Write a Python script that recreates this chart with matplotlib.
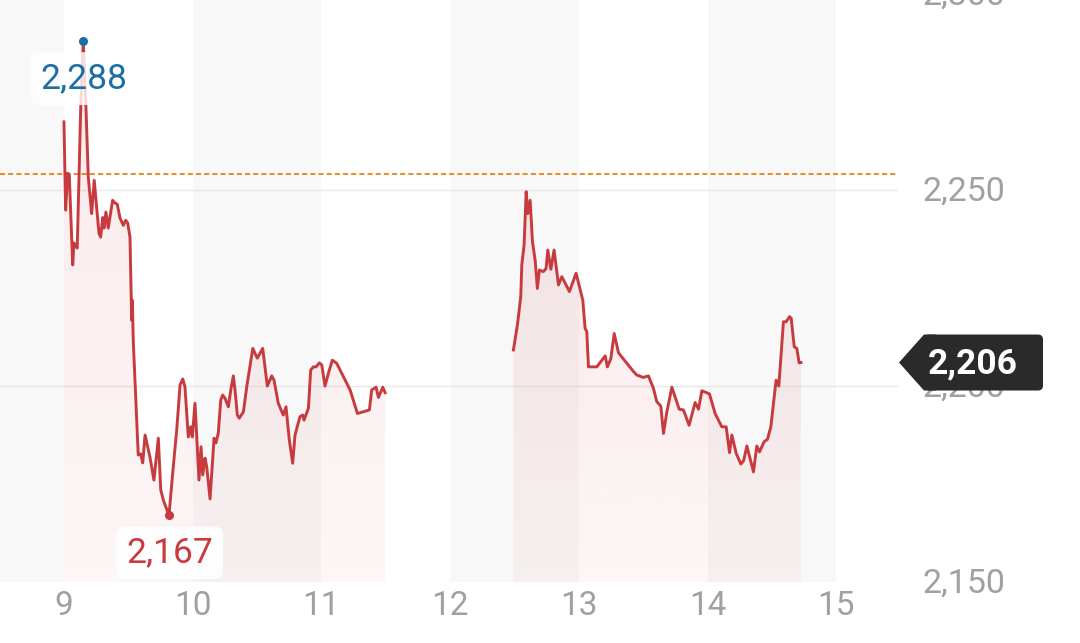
import numpy as np
import matplotlib
matplotlib.use("Agg")
import matplotlib.pyplot as plt
import matplotlib.transforms as mtransforms
from matplotlib.patches import Polygon, FancyBboxPatch

plt.rcParams['font.family'] = ['Roboto', 'DejaVu Sans']

# ---------------- data ----------------
am_time = [9.000, 9.013, 9.029, 9.041, 9.068, 9.078, 9.103, 9.130, 9.150, 9.171,
           9.189, 9.215, 9.235, 9.272, 9.285, 9.301, 9.311, 9.326, 9.344, 9.378,
           9.396, 9.414, 9.435, 9.461, 9.480, 9.495, 9.513, 9.526, 9.531, 9.539,
           9.577, 9.596, 9.612, 9.630, 9.668, 9.699, 9.733, 9.752, 9.772, 9.816,
           9.849, 9.876, 9.902, 9.923, 9.940, 9.966, 9.985, 9.997, 10.018, 10.049,
           10.065, 10.078, 10.096, 10.109, 10.135, 10.166, 10.181, 10.199, 10.218, 10.233,
           10.251, 10.277, 10.296, 10.316, 10.329, 10.347, 10.362, 10.394, 10.420, 10.467,
           10.502, 10.544, 10.580, 10.614, 10.632, 10.665, 10.704, 10.725, 10.751, 10.777,
           10.795, 10.834, 10.855, 10.865, 10.899, 10.917, 10.938, 10.959, 10.984, 11.003,
           11.028, 11.054, 11.085, 11.119, 11.223, 11.248, 11.280, 11.373, 11.391, 11.425,
           11.443, 11.477, 11.495]
am_price = [2267.4, 2244.9, 2254.3, 2254.0, 2230.9, 2236.5, 2235.2, 2270.9, 2288.0, 2270.9,
            2253.3, 2244.0, 2252.5, 2239.0, 2238.0, 2243.0, 2240.3, 2244.4, 2240.3, 2247.4,
            2246.7, 2246.4, 2242.9, 2241.0, 2242.3, 2241.6, 2238.0, 2216.8, 2221.9, 2211.0,
            2182.4, 2182.7, 2180.4, 2187.5, 2181.9, 2176.0, 2186.7, 2173.5, 2170.9, 2167.0,
            2179.4, 2188.8, 2200.3, 2201.8, 2199.8, 2187.0, 2189.6, 2187.0, 2195.6, 2176.0,
            2184.5, 2177.3, 2181.6, 2179.4, 2171.2, 2186.7, 2185.5, 2188.0, 2196.4, 2197.7,
            2196.9, 2194.7, 2199.0, 2202.6, 2199.0, 2192.6, 2191.8, 2193.4, 2199.8, 2209.6,
            2207.1, 2209.6, 2200.0, 2202.6, 2201.5, 2195.6, 2192.6, 2194.7, 2186.2, 2180.3,
            2187.5, 2192.2, 2192.6, 2191.3, 2194.3, 2204.1, 2204.9, 2204.9, 2205.9, 2205.4,
            2200.0, 2203.2, 2206.6, 2205.8, 2199.0, 2196.4, 2193.0, 2193.9, 2199.0, 2199.7,
            2197.1, 2199.7, 2198.3]

pm_time = [12.492, 12.523, 12.549, 12.557, 12.575, 12.591, 12.604, 12.622, 12.640, 12.661,
           12.678, 12.694, 12.725, 12.746, 12.759, 12.783, 12.808, 12.842, 12.868, 12.927,
           12.979, 13.031, 13.049, 13.062, 13.075, 13.140, 13.205, 13.222, 13.249, 13.275,
           13.308, 13.425, 13.451, 13.502, 13.541, 13.580, 13.606, 13.637, 13.658, 13.684,
           13.723, 13.780, 13.813, 13.857, 13.904, 13.930, 13.956, 14.015, 14.059, 14.111,
           14.145, 14.171, 14.189, 14.223, 14.259, 14.280, 14.306, 14.357, 14.383, 14.404,
           14.440, 14.466, 14.492, 14.533, 14.554, 14.590, 14.611, 14.637, 14.650, 14.674,
           14.694, 14.712, 14.726]
pm_price = [2209.2, 2215.6, 2222.8, 2230.9, 2236.0, 2249.6, 2244.0, 2247.4, 2236.8, 2232.1,
            2224.9, 2229.6, 2229.2, 2230.0, 2234.7, 2229.8, 2234.7, 2225.8, 2227.9, 2224.1,
            2228.8, 2221.9, 2214.7, 2213.9, 2204.9, 2204.9, 2207.7, 2204.9, 2207.0, 2213.4,
            2208.5, 2203.7, 2202.8, 2202.2, 2202.6, 2199.4, 2196.0, 2194.9, 2187.9, 2193.4,
            2199.7, 2194.1, 2193.9, 2190.0, 2195.8, 2194.1, 2198.8, 2198.0, 2193.0, 2189.6,
            2189.6, 2183.0, 2187.5, 2182.8, 2180.1, 2180.9, 2184.7, 2178.1, 2184.7, 2183.2,
            2185.8, 2186.4, 2189.6, 2201.5, 2200.0, 2216.4, 2216.4, 2217.7, 2217.3, 2210.0,
            2209.6, 2205.9, 2206.0]

prev_close = 2254
last_price = 2206
high_time, high_price = 9.150, 2288
low_time, low_price = 9.816, 2167
x_ticks = [9, 10, 11, 12, 13, 14, 15]
x_labels = ["9", "10", "11", "12", "13", "14", "15"]
y_ticks = [2150, 2200, 2250, 2300]
y_labels = ["2,150", "2,200", "2,250", "2,300"]
bands = [(8.4, 9), (10, 11), (12, 13), (14, 15)]

# ---------------- style ----------------
LINE = '#c73b3f'
BLUE = '#1c6ea4'
TICK = '#a0a0a0'
W, H = 1080, 643
ax_left_px, ax_right_px, ax_bottom_px = 0, 898, 582
ymin, ymax = 2150, 2298.5

fig = plt.figure(figsize=(W / 100, H / 100), dpi=100)
ax = fig.add_axes([ax_left_px / W, 1 - ax_bottom_px / H,
                   (ax_right_px - ax_left_px) / W, ax_bottom_px / H])
ax.set_xlim(8.503, 15.48)
ax.set_ylim(ymin, ymax)
for s in ax.spines.values():
    s.set_visible(False)
ax.set_facecolor('white')

for a, b in bands:
    ax.axvspan(a, b, color='#f8f8f8', lw=0, zorder=0)

for g in [2200, 2250]:
    ax.axhline(g, color='#e8e8e8', lw=1.0, zorder=1)

ax.axhline(prev_close, color='#e98a2c', lw=1.4, ls=(0, (2.6, 1.6)), zorder=2)

# gradient fill under line
grad = np.zeros((256, 1, 4))
grad[:, 0, 0] = 0.80
grad[:, 0, 1] = 0.20
grad[:, 0, 2] = 0.22
grad[:, 0, 3] = np.linspace(0.11, 0.045, 256)
for t, p in [(am_time, am_price), (pm_time, pm_price)]:
    poly = ax.fill_between(t, p, ymin, color='none', lw=0)
    img = ax.imshow(grad, extent=[t[0], t[-1], ymin, max(p)], aspect='auto',
                    origin='upper', zorder=2, interpolation='bilinear')
    img.set_clip_path(poly.get_paths()[0], transform=ax.transData)
    ax.plot(t, p, color=LINE, lw=2.1, zorder=3, solid_joinstyle='round')

ax.set_xlim(8.503, 15.48)
ax.set_ylim(ymin, ymax)

# x ticks
ax.set_xticks(x_ticks)
ax.set_xticklabels(x_labels)
ax.tick_params(axis='x', length=0, pad=6, labelsize=24, labelcolor=TICK)
ax.set_yticks([])

# y labels on right
ytr = mtransforms.blended_transform_factory(fig.transFigure, ax.transData)
for v, lab in zip(y_ticks, y_labels):
    ax.text(922 / W, v - 0.4, lab, transform=ytr, ha='left', va='center',
            fontsize=24.5, color=TICK, clip_on=False)

# high / low markers
ax.plot(high_time, high_price, 'o', color=BLUE, ms=5.5, zorder=4)
ax.annotate(f"{high_price:,}", (high_time, high_price), xytext=(0.5, -27),
            textcoords='offset points', ha='center', va='center', fontsize=25.5,
            color=BLUE, zorder=5,
            bbox=dict(boxstyle='round,pad=0.28,rounding_size=0.25', fc='white',
                      ec='none', alpha=0.82))
ax.plot(low_time, low_price, 'o', color=LINE, ms=5.5, zorder=4)
ax.annotate(f"{low_price:,}", (low_time, low_price), xytext=(0.5, -27),
            textcoords='offset points', ha='center', va='center', fontsize=25.5,
            color=LINE, zorder=5,
            bbox=dict(boxstyle='round,pad=0.28,rounding_size=0.25', fc='white',
                      ec='none', alpha=0.9))

# price tag (display/pixel coords)
fig.canvas.draw()
Y = ax.transData.transform((9, last_price))[1]
ident = mtransforms.IdentityTransform()
hh = 28
tag_rect = FancyBboxPatch((924, Y - hh), 1043 - 924, 2 * hh,
                          boxstyle='round,pad=0,rounding_size=5',
                          fc='#2a2a2a', ec='none', transform=ident)
tag_tri = Polygon([(899, Y), (924, Y + hh), (936, Y + hh), (936, Y - hh), (924, Y - hh)],
                  closed=True, fc='#2a2a2a', ec='none', transform=ident)
fig.add_artist(tag_rect)
fig.add_artist(tag_tri)
fig.text(973, Y - 1, f"{last_price:,}", transform=ident, ha='center', va='center',
         fontsize=25.5, fontweight='bold', color='white', zorder=5)

fig.savefig('out.png', dpi=100, facecolor='white')
